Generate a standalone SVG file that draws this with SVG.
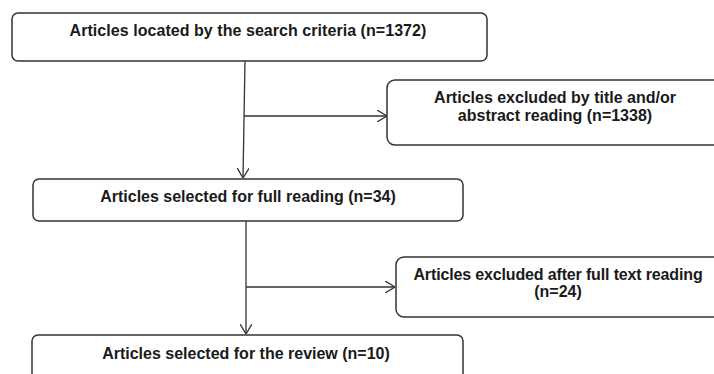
<svg xmlns="http://www.w3.org/2000/svg" width="714" height="374" viewBox="0 0 714 374">
<defs>
<marker id="arr" viewBox="0 0 10 12" refX="10" refY="6" markerWidth="10" markerHeight="12" markerUnits="userSpaceOnUse" orient="auto">
<path d="M0,0 L10,6 L0,12" fill="none" stroke="#333" stroke-width="1.3"/>
</marker>
<style>
.box{fill:#fff;stroke:#333;stroke-width:1.5}
.t{font-family:"Liberation Sans",Arial,sans-serif;font-weight:bold;font-size:16px;fill:#1a1a1a;text-anchor:middle}
.c{fill:none;stroke:#333;stroke-width:1.3}
</style>
</defs>
<rect width="714" height="374" fill="#fff"/>
<g id="connectors">
<path class="c" d="M245,61 L243,178" marker-end="url(#arr)"/>
<path class="c" d="M244,116 L387,116" marker-end="url(#arr)"/>
<path class="c" d="M246,221 L246,334" marker-end="url(#arr)"/>
<path class="c" d="M246,287 L395,287" marker-end="url(#arr)"/>
</g>
<g id="n1">
<rect class="box" x="12" y="13" width="475" height="48" rx="6"/>
<text class="t" x="248" y="36" letter-spacing="0.05">Articles located by the search criteria (n=1372)</text>
</g>
<g id="n2">
<rect class="box" x="387" y="80" width="340" height="65" rx="8"/>
<text class="t" x="555" y="103">Articles excluded by title and/or</text>
<text class="t" x="555" y="121">abstract reading (n=1338)</text>
</g>
<g id="n3">
<rect class="box" x="33" y="179" width="430" height="42" rx="6"/>
<text class="t" x="248" y="202">Articles selected for full reading (n=34)</text>
</g>
<g id="n4">
<rect class="box" x="396" y="257" width="340" height="60" rx="8"/>
<text class="t" x="558" y="280" letter-spacing="-0.15">Articles excluded after full text reading</text>
<text class="t" x="558" y="297">(n=24)</text>
</g>
<g id="n5">
<rect class="box" x="32" y="335" width="431" height="60" rx="6"/>
<text class="t" x="246" y="359">Articles selected for the review (n=10)</text>
</g>
</svg>
